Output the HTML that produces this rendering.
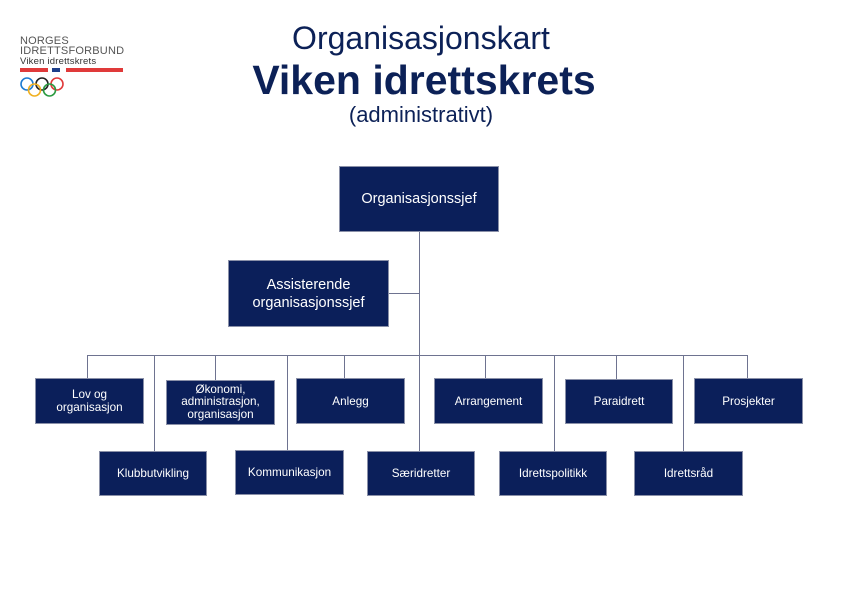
<!DOCTYPE html>
<html><head><meta charset="utf-8"><style>
body{margin:0;width:842px;height:595px;background:#fff;position:relative;overflow:hidden;font-family:"Liberation Sans",sans-serif;color:#0c2157}
.t{position:absolute;left:0;width:842px;text-align:center;white-space:nowrap}
.b{position:absolute;background:#0b1f5a;border:1px solid #8a90a8;box-sizing:border-box;color:#fff;display:flex;align-items:center;justify-content:center;text-align:center;font-size:11.7px;line-height:13px}
.l{position:absolute;background:#6e7390}
</style></head><body>
<div class="t" style="top:20px;font-size:32px">Organisasjonskart</div>
<div class="t" style="top:57px;font-size:41px;font-weight:bold;left:3px">Viken idrettskrets</div>
<div class="t" style="top:102px;font-size:22px">(administrativt)</div>

<div style="position:absolute;left:20px;top:36px;font-size:11px;line-height:10px;color:#555;letter-spacing:0.2px">NORGES<br>IDRETTSFORBUND<br><span style="color:#333;font-size:9.5px">Viken idrettskrets</span></div>
<div style="position:absolute;left:20px;top:68px;width:28px;height:4px;background:#e03a3a"></div>
<div style="position:absolute;left:52px;top:68px;width:8px;height:4px;background:#1e3f8a"></div>
<div style="position:absolute;left:66px;top:68px;width:57px;height:4px;background:#e03a3a"></div>
<svg style="position:absolute;left:18px;top:76px" width="50" height="22" fill="none" stroke-width="1.6">
<circle cx="9" cy="8" r="6" stroke="#1e7bd0"/><circle cx="24" cy="8" r="6" stroke="#222"/><circle cx="39" cy="8" r="6" stroke="#e03a3a"/>
<circle cx="16.5" cy="14" r="6" stroke="#f0b020"/><circle cx="31.5" cy="14" r="6" stroke="#2a9a40"/></svg>

<div class="l" style="left:419px;top:231px;width:1px;height:124px"></div>
<div class="l" style="left:388px;top:293px;width:31px;height:1px"></div>
<div class="l" style="left:87px;top:355px;width:661px;height:1px"></div>
<div class="l" style="left:87px;top:355px;width:1px;height:24px"></div>
<div class="l" style="left:154px;top:355px;width:1px;height:96px"></div>
<div class="l" style="left:215px;top:355px;width:1px;height:25px"></div>
<div class="l" style="left:287px;top:355px;width:1px;height:95px"></div>
<div class="l" style="left:344px;top:355px;width:1px;height:24px"></div>
<div class="l" style="left:419px;top:355px;width:1px;height:96px"></div>
<div class="l" style="left:485px;top:355px;width:1px;height:24px"></div>
<div class="l" style="left:554px;top:355px;width:1px;height:96px"></div>
<div class="l" style="left:616px;top:355px;width:1px;height:24px"></div>
<div class="l" style="left:683px;top:355px;width:1px;height:96px"></div>
<div class="l" style="left:747px;top:355px;width:1px;height:24px"></div>

<div class="b" style="left:339px;top:166px;width:160px;height:66px;font-size:14.5px">Organisasjonssjef</div>
<div class="b" style="left:228px;top:260px;width:161px;height:67px;font-size:14.5px;line-height:18px">Assisterende<br>organisasjonssjef</div>

<div class="b" style="left:35px;top:378px;width:109px;height:46px">Lov og<br>organisasjon</div>
<div class="b" style="left:166px;top:380px;width:109px;height:45px;line-height:12.5px">Økonomi,<br>administrasjon,<br>organisasjon</div>
<div class="b" style="left:296px;top:378px;width:109px;height:46px">Anlegg</div>
<div class="b" style="left:434px;top:378px;width:109px;height:46px">Arrangement</div>
<div class="b" style="left:565px;top:379px;width:108px;height:45px">Paraidrett</div>
<div class="b" style="left:694px;top:378px;width:109px;height:46px">Prosjekter</div>

<div class="b" style="left:99px;top:451px;width:108px;height:45px">Klubbutvikling</div>
<div class="b" style="left:235px;top:450px;width:109px;height:45px">Kommunikasjon</div>
<div class="b" style="left:367px;top:451px;width:108px;height:45px">Særidretter</div>
<div class="b" style="left:499px;top:451px;width:108px;height:45px">Idrettspolitikk</div>
<div class="b" style="left:634px;top:451px;width:109px;height:45px">Idrettsråd</div>
</body></html>
